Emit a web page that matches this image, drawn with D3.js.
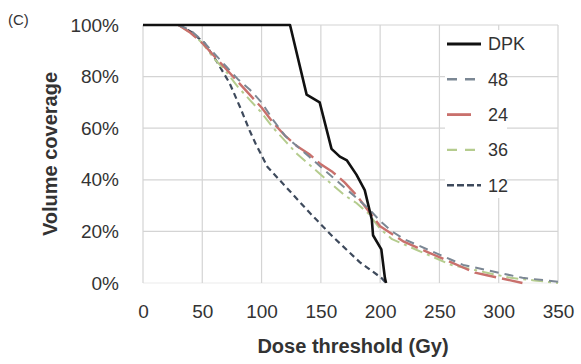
<!DOCTYPE html>
<html lang="en">
<head>
  <meta charset="UTF-8">
  <title>Volume coverage</title>
  <script src="https://d3js.org/d3.v7.min.js"></script>
  <style>
    body { margin: 0; background: #fff; }
    text { font-family: "Liberation Sans", Arial, sans-serif; fill: #333; }
  </style>
</head>
<body>
<svg width="581" height="364"></svg>
<script>
  // dose thresholds (Gy) and coverage (%)
  const dpkDose = [0, 124, 138, 149, 159, 166, 172, 180, 187, 193, 194, 201, 204, 205]
  const dpkCov = [100, 100, 73, 70, 52, 49, 47.5, 42, 36, 24.5, 18.5, 13, 2, 0]

  const d12Dose = [30, 40, 52, 62, 73, 82, 90, 95, 105, 121, 141, 160, 183, 201, 205]
  const d12Cov = [100, 97.5, 93, 86, 77.5, 68, 59, 54, 45, 37, 27, 18, 8, 2, 0]

  const dose = [30, 40, 50, 60, 70, 80, 90, 100, 110, 120, 130, 140, 150, 160, 170, 180,
    190, 200, 210, 220, 230, 240, 250, 260, 270, 280, 290, 300, 310, 320, 330, 340, 350]
  const cov48 = [100, 98, 94, 89, 84, 79, 75, 70, 63, 57, 53, 49, 45, 41, 37, 33,
    29, 24, 20, 17, 15, 13, 11, 9, 7, 6, 5, 4, 3, 2, 1.5, 1, 0.5]
  const cov24 = [100, 97, 93, 88, 83, 78, 73, 68, 62, 57, 53, 50, 46, 43, 39, 34,
    28, 22, 19, 16, 14, 12, 10, 8, 6, 4, 3, 2, 1, 0]
  const cov36 = [100, 97, 93, 87, 82, 76, 71, 66, 60, 55, 50, 46, 42, 38, 34, 31,
    27, 21, 17, 15, 13, 11, 9, 7, 6, 5, 4, 3, 2, 1.5, 1, 0.5, 0]

  const xTicks = [0, 50, 100, 150, 200, 250, 300, 350]
  const yTicks = [0, 20, 40, 60, 80, 100]

  const series = [
    { name: "DPK", x: dpkDose, y: dpkCov, color: "#111", width: 2.6, dash: null },
    { name: "48", x: dose, y: cov48, color: "#7b8794", width: 2, dash: "9,6" },
    { name: "24", x: dose, y: cov24, color: "#c9706c", width: 2.4, dash: "22,6" },
    { name: "36", x: dose, y: cov36, color: "#b5cc8e", width: 2, dash: "12,5,3,5" },
    { name: "12", x: d12Dose, y: d12Cov, color: "#3e4a5c", width: 2.2, dash: "6,4" }
  ]

  const svg = d3.select("svg")
  const x = d3.scaleLinear().domain([0, 350]).range([143, 558])
  const y = d3.scaleLinear().domain([0, 100]).range([283, 25])

  // grid
  const grid = svg.append("g")
  grid.selectAll("line.h")
    .data(yTicks)
    .join("line")
    .attr("x1", x(0)).attr("x2", x(350))
    .attr("y1", d => y(d)).attr("y2", d => y(d))
    .attr("stroke", d => d === 0 ? "#ececec" : "#d4d4d4")
    .attr("stroke-width", 1.2)
  grid.selectAll("line.v")
    .data(xTicks)
    .join("line")
    .attr("class", "v")
    .attr("y1", y(0)).attr("y2", y(100))
    .attr("x1", d => x(d)).attr("x2", d => x(d))
    .attr("stroke", "#d4d4d4")
    .attr("stroke-width", 1.2)

  // axes labels
  const xAxis = svg.append("g")
    .attr("transform", `translate(0,${y(0)})`)
    .call(d3.axisBottom(x).tickValues(xTicks).tickSize(0).tickPadding(22))
  const yAxis = svg.append("g")
    .attr("transform", `translate(${x(0)},0)`)
    .call(d3.axisLeft(y).tickValues(yTicks).tickSize(0).tickPadding(24).tickFormat(d => d + "%"))
  for (const a of [xAxis, yAxis]) {
    a.select(".domain").remove()
    a.selectAll("text").attr("font-size", 19).attr("fill", "#333")
      .attr("font-family", "Liberation Sans, Arial, sans-serif")
  }

  const line = d3.line()
  const plot = svg.append("g")
  plot.selectAll("path")
    .data(series.slice().reverse())
    .join("path")
    .attr("fill", "none")
    .attr("stroke", d => d.color)
    .attr("stroke-width", d => d.width)
    .attr("stroke-dasharray", d => d.dash)
    .attr("stroke-linejoin", "round")
    .attr("d", d => line(d.x.map((v, i) => [x(v), y(d.y[i])])))

  // legend
  const legend = svg.append("g")
  legend.append("rect")
    .attr("x", 445).attr("y", 30).attr("width", 62).attr("height", 168)
    .attr("fill", "#fff")
  const item = legend.selectAll("g")
    .data(series)
    .join("g")
    .attr("transform", (d, i) => `translate(447,${44 + i * 35.3})`)
  item.append("line")
    .attr("x1", 0).attr("x2", d => d.name === "24" ? 24 : 34)
    .attr("stroke", d => d.color)
    .attr("stroke-width", d => d.name === "DPK" ? 3 : d.width + 0.4)
    .attr("stroke-dasharray", d => d.name === "DPK" || d.name === "24" ? null : d.name === "12" ? "7,3" : "10,8")
  item.append("text")
    .attr("x", 41).attr("dy", "0.35em")
    .attr("font-size", 18)
    .text(d => d.name)

  // titles
  svg.append("text")
    .attr("x", 353).attr("y", 353)
    .attr("text-anchor", "middle")
    .attr("font-size", 20).attr("font-weight", "bold")
    .text("Dose threshold (Gy)")
  svg.append("text")
    .attr("transform", "translate(57,154) rotate(-90)")
    .attr("text-anchor", "middle")
    .attr("font-size", 20).attr("font-weight", "bold")
    .text("Volume coverage")
  svg.append("text")
    .attr("x", 8).attr("y", 25)
    .attr("font-size", 15)
    .text("(C)")
</script>
</body>
</html>
